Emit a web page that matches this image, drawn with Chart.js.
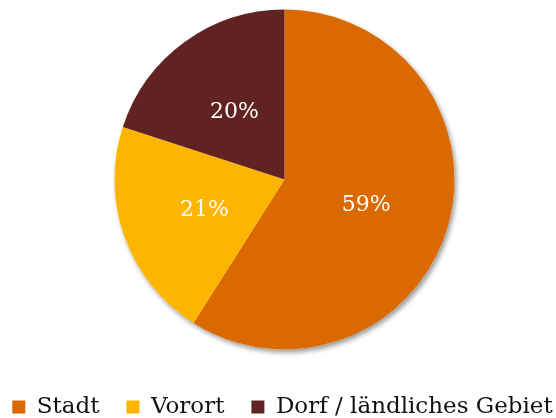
<!DOCTYPE html>
<html>
<head>
<meta charset="utf-8">
<script src="https://cdn.jsdelivr.net/npm/chart.js@4"></script>
<style>
  html, body { margin: 0; padding: 0; background: #fff; }
  #wrap { width: 556px; height: 418px; }
</style>
</head>
<body>
<div id="wrap"><canvas id="myChart" width="556" height="418"></canvas></div>
<script>
// Data
const categories = ['Stadt', 'Vorort', 'Dorf / ländliches Gebiet'];
const shares = [59, 21, 20];
const colors = ['#DA6A00', '#FDB500', '#612322'];

const ctx = document.getElementById('myChart').getContext('2d');

// soft shadow behind the pie
const pieShadow = {
    id: 'pieShadow',
    beforeDatasetsDraw(chart) {
        const arc = chart.getDatasetMeta(0).data[0];
        if (!arc) return;
        const c = chart.ctx;
        c.save();
        c.shadowColor = 'rgba(0,0,0,0.4)';
        c.shadowBlur = 5;
        c.shadowOffsetX = 2;
        c.shadowOffsetY = 3;
        c.fillStyle = '#ffffff';
        c.beginPath();
        c.arc(arc.x, arc.y, arc.outerRadius, 0, Math.PI * 2);
        c.fill();
        c.restore();
    }
};

// percentage labels inside the slices
const sliceLabels = {
    id: 'sliceLabels',
    afterDatasetsDraw(chart) {
        const c = chart.ctx;
        const meta = chart.getDatasetMeta(0);
        c.save();
        c.fillStyle = '#ffffff';
        c.font = '22px "DejaVu Serif", Georgia, serif';
        c.textAlign = 'center';
        c.textBaseline = 'middle';
        meta.data.forEach((arc, i) => {
            const p = arc.getCenterPoint();
            c.fillText(shares[i] + '%', p.x, p.y + 2);
        });
        c.restore();
    }
};

const chart = new Chart(ctx, {
    type: 'pie',
    data: {
        labels: categories,
        datasets: [{
            data: shares,
            backgroundColor: colors,
            borderWidth: 0,
            radius: 170
        }]
    },
    options: {
        responsive: false,
        animation: false,
        // negative padding lets the legend stay on one row and sit low
        layout: { padding: { top: 0, bottom: -10.5, left: -15, right: -24 } },
        plugins: {
            // empty title on the left nudges the pie a little to the right
            title: {
                display: true,
                position: 'left',
                text: '',
                fullSize: false,
                padding: 0,
                font: { size: 20, lineHeight: 1.4 }
            },
            legend: {
                position: 'bottom',
                title: {
                    display: true,
                    text: '',
                    padding: 0,
                    font: { size: 5, lineHeight: 1.9 }
                },
                labels: {
                    boxWidth: 13,
                    boxHeight: 13,
                    padding: 27,
                    color: '#111',
                    font: { family: '"DejaVu Serif", Georgia, serif', size: 23 }
                }
            },
            tooltip: { enabled: false }
        }
    },
    plugins: [pieShadow, sliceLabels]
});
</script>
</body>
</html>
